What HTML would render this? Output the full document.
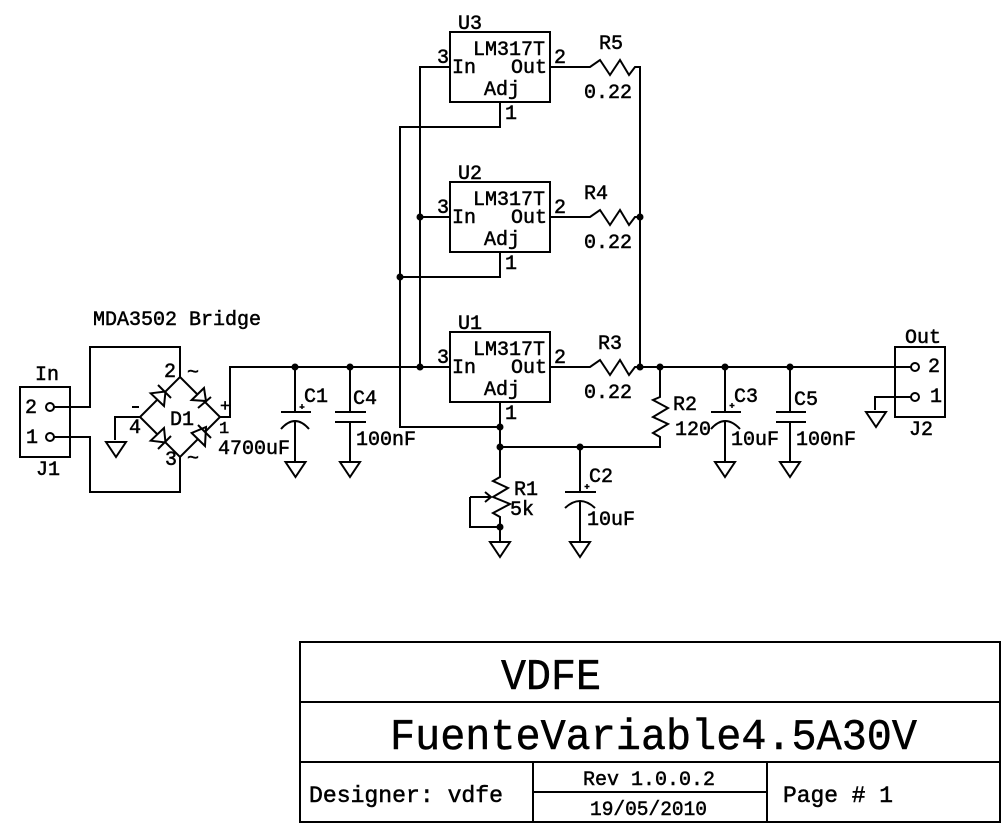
<!DOCTYPE html>
<html><head><meta charset="utf-8"><style>
html,body{margin:0;padding:0;background:#fff}
svg{display:block}
text{font-family:"Liberation Mono",monospace;font-size:20px;fill:#000;stroke:#000;stroke-width:.5}
.w{fill:none;stroke:#000;stroke-width:2}
.t{fill:#fff;stroke:#000;stroke-width:2}
.s{font-size:17px}
</style></head><body>
<svg width="1008" height="827" viewBox="0 0 1008 827" xmlns="http://www.w3.org/2000/svg">
<g class="w">
<!-- J1 -->
<rect x="20" y="387" width="50" height="70"/>
<circle cx="50" cy="407" r="4"/><circle cx="50" cy="437" r="4"/>
<path d="M54 407H90V347H180V377M54 437H90V492H180V457"/>
<!-- bridge -->
<path d="M180 377L220 417L180 457L140 417Z"/>
<path d="M140 417H115V440M220 417H230V367H450M640 367H911"/>
<path class="t" d="M150.7 393.3L164 406L165.5 391.500ZM191.7 400L204 388L206 401ZM150.7 440.7L164 428L165.500 442.500ZM191.7 433L205 446L206 427Z"/>
<path d="M158 385L171 398M198 408L211 397M158 449L171 436M198 425L211 438"/>
<!-- grounds -->
<path d="M106 442H126L116 457ZM285.500 462H305.500L295.500 477ZM340 462H360L350 477ZM490 542H510L500 557ZM570 542H590L580 557ZM715 462H735L725 477ZM780 462H800L790 477ZM866 412H886L876 427Z"/>
<!-- caps -->
<path d="M295 367V412M281 412H311M281 429Q295 413 309 429M295 422V462"/>
<path d="M350 367V412M335 412H366M335 422H366M350 422V462"/>
<path d="M580 447V492M565 492H596M565 508Q580 494 595 508M580 502V542"/>
<path d="M725 367V412M711 412H741M711 429Q725 413 740 429M725 422V462"/>
<path d="M790 367V412M776 412H806M776 422H806M790 422V462"/>
<!-- regulators -->
<rect x="450" y="32" width="100" height="70"/>
<rect x="450" y="182" width="100" height="70"/>
<rect x="450" y="332" width="100" height="70"/>
<path d="M450 67H420V367M420 217H450M500 102V127H400V427H500M500 252V277H400"/>
<path d="M500 402V477L493 481L508 488L493 497L510 504L493 513L500 517V542"/>
<path d="M470 497H490M485 492L491 497L485 502M470 497V527H500"/>
<path d="M500 447H660V437L653 433L668 424L653 417L668 408L653 400L660 397V367"/>
<!-- resistors -->
<path d="M550 67H590L600 60L610 75L620 60L629 75L635 67H640V367"/>
<path d="M550 217H590L600 210L610 225L620 210L629 225L635 217H640"/>
<path d="M550 367H590L600 360L610 375L620 360L629 375L635 367H640"/>
<!-- J2 -->
<rect x="895" y="347" width="50" height="70"/>
<circle cx="915" cy="367" r="4"/><circle cx="915" cy="397" r="4"/>
<path d="M911 397H875V410"/>
<!-- title block -->
<rect x="300" y="642" width="700" height="180"/>
<path d="M300 702H1000M300 762H1000M533 762V822M767 762V822M533 792H767"/>
<!-- small pluses -->
<path stroke-width="1.500" d="M302 404V409M299.500 407H304.500M587 484V489M584.500 486.500H589.500M732 403V408M729.500 405.500H734.500"/>
<path d="M132 407H139"/>
</g>
<g fill="#000">
<circle cx="295" cy="367" r="3.500"/><circle cx="350" cy="367" r="3.500"/><circle cx="420" cy="367" r="3.500"/><circle cx="420" cy="217" r="3.500"/>
<circle cx="400" cy="277" r="3.500"/><circle cx="640" cy="217" r="3.500"/><circle cx="640" cy="367" r="3.500"/><circle cx="660" cy="367" r="3.500"/>
<circle cx="725" cy="367" r="3.500"/><circle cx="790" cy="367" r="3.500"/><circle cx="500" cy="427" r="3.500"/><circle cx="500" cy="447" r="3.500"/>
<circle cx="580" cy="447" r="3.500"/><circle cx="500" cy="527" r="3.500"/>
</g>
<text x="93" y="325">MDA3502 Bridge</text>
<text x="35" y="380">In</text>
<text x="25" y="413">2</text><text x="26" y="443">1</text>
<text x="36" y="475">J1</text>
<text x="164" y="377">2</text><text x="187" y="378">~</text>
<text x="170" y="425">D1</text>
<text x="129" y="433">4</text>
<text x="220" y="411" class="s">+</text>
<text x="219" y="433" class="s">1</text>
<text x="165" y="465">3</text><text x="187" y="464">~</text>
<text x="218" y="454">4700uF</text>
<text x="304" y="402">C1</text>
<text x="353" y="404">C4</text>
<text x="356" y="445">100nF</text>
<text x="458" y="29">U3</text><text x="473" y="55">LM317T</text><text x="452" y="73">In</text><text x="511" y="73">Out</text><text x="484" y="95">Adj</text><text x="437" y="63">3</text><text x="554" y="63">2</text><text x="505" y="119">1</text><text x="599" y="49">R5</text><text x="584" y="98">0.22</text>
<text x="458" y="179">U2</text><text x="473" y="205">LM317T</text><text x="452" y="223">In</text><text x="511" y="223">Out</text><text x="484" y="245">Adj</text><text x="437" y="213">3</text><text x="554" y="213">2</text><text x="505" y="269">1</text><text x="584" y="199">R4</text><text x="584" y="248">0.22</text>
<text x="458" y="329">U1</text><text x="473" y="355">LM317T</text><text x="452" y="373">In</text><text x="511" y="373">Out</text><text x="484" y="395">Adj</text><text x="437" y="363">3</text><text x="554" y="363">2</text><text x="505" y="419">1</text><text x="598" y="349">R3</text><text x="584" y="398">0.22</text>
<text x="514" y="495">R1</text><text x="510" y="515">5k</text>
<text x="589" y="482">C2</text><text x="587" y="525">10uF</text>
<text x="673" y="410">R2</text><text x="675" y="435">120</text>
<text x="734" y="402">C3</text><text x="731" y="445">10uF</text>
<text x="794" y="405">C5</text><text x="796" y="445">100nF</text>
<text x="905" y="343">Out</text>
<text x="928" y="372">2</text><text x="930" y="402">1</text>
<text x="909" y="435">J2</text>
<text x="501" y="689" style="font-size:44px" textLength="100" lengthAdjust="spacingAndGlyphs">VDFE</text>
<text x="390" y="749" style="font-size:44px" textLength="527" lengthAdjust="spacingAndGlyphs">FuenteVariable4.5A30V</text>
<text x="309" y="802" style="font-size:23px" textLength="194" lengthAdjust="spacingAndGlyphs">Designer: vdfe</text>
<text x="583" y="785" textLength="132" lengthAdjust="spacingAndGlyphs">Rev 1.0.0.2</text>
<text x="590" y="815" textLength="117" lengthAdjust="spacingAndGlyphs">19/05/2010</text>
<text x="783" y="802" style="font-size:23px" textLength="110" lengthAdjust="spacingAndGlyphs">Page # 1</text>
</svg>
</body></html>
